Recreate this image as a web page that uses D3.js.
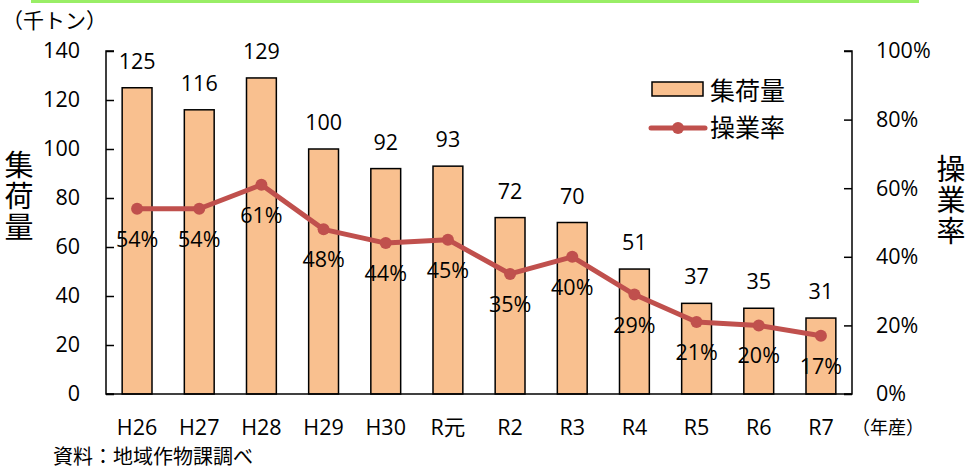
<!DOCTYPE html>
<html><head><meta charset="utf-8">
<script src="https://cdn.jsdelivr.net/npm/d3@7"></script>
<style>
body{margin:0;background:#fff;}
svg{display:block;font-family:"Open Sans","Noto Sans CJK JP",sans-serif;}
</style></head>
<body><svg id="chart" width="978" height="469"></svg>
<script>
const categories = ["H26","H27","H28","H29","H30","R元","R2","R3","R4","R5","R6","R7"];
const volumes = [125,116,129,100,92,93,72,70,51,37,35,31];
const rates = [0.54,0.54,0.61,0.48,0.44,0.45,0.35,0.40,0.29,0.21,0.20,0.17];
const leftTicks = [0,20,40,60,80,100,120,140];
const rightTicks = [0,0.2,0.4,0.6,0.8,1.0];

const svg = d3.select("#chart");
const x0 = 106, x1 = 852, yTop = 51, yBot = 394;
const jp = "'Noto Sans CJK JP',sans-serif";
const num = "'Open Sans','Noto Sans CJK JP',sans-serif";
const barFill = "#F9C08F", lineCol = "#C0504D";
const fs = 21.5;

// top green strip
svg.append("rect").attr("x",31).attr("y",0).attr("width",888).attr("height",3).attr("fill","#99EE66");

const x = d3.scaleBand().domain(categories).range([x0,x1]).paddingInner(0.52).paddingOuter(0.26);
const y = d3.scaleLinear().domain([0,140]).range([yBot,yTop]);
const yr = d3.scaleLinear().domain([0,1]).range([yBot,yTop]);

// bars
svg.selectAll("rect.bar").data(volumes).enter().append("rect").attr("class","bar")
  .attr("x",(d,i)=>x(categories[i])).attr("width",x.bandwidth())
  .attr("y",d=>y(d)).attr("height",d=>y(0)-y(d))
  .attr("fill",barFill).attr("stroke","#000").attr("stroke-width",1.5);

// bar labels
svg.selectAll("text.vl").data(volumes).enter().append("text").attr("class","vl")
  .attr("x",(d,i)=>x(categories[i])+x.bandwidth()/2).attr("y",d=>y(d)-19)
  .attr("text-anchor","middle").attr("font-size",fs).attr("font-family",num).attr("fill","#000").text(d=>d);

// left axis
const la = svg.append("g").attr("transform",`translate(${x0},0)`)
  .call(d3.axisRight(y).tickValues(leftTicks).tickSize(8).tickFormat(d3.format("d")));
la.select(".domain").attr("stroke","#000").attr("stroke-width",1.5).attr("d",`M8,${yTop}H0V${yBot}H8`);
la.selectAll(".tick line").attr("stroke","#000").attr("stroke-width",1.5);
la.selectAll(".tick text").attr("x",-26).attr("text-anchor","end").attr("font-size",fs).attr("fill","#000").attr("font-family",num);

// right axis
const ra = svg.append("g").attr("transform",`translate(${x1},0)`)
  .call(d3.axisLeft(yr).tickValues(rightTicks).tickSize(8).tickFormat(d3.format(".0%")));
ra.select(".domain").attr("stroke","#000").attr("stroke-width",1.5).attr("d",`M-8,${yTop}H0V${yBot}H-8`);
ra.selectAll(".tick line").attr("stroke","#000").attr("stroke-width",1.5);
ra.selectAll(".tick text").attr("x",24).attr("text-anchor","start").attr("font-size",fs).attr("fill","#000").attr("font-family",num);

// bottom axis line
svg.append("line").attr("x1",x0).attr("x2",x1).attr("y1",yBot).attr("y2",yBot).attr("stroke","#000").attr("stroke-width",1.5);

// x labels
svg.selectAll("text.xl").data(categories).enter().append("text").attr("class","xl")
  .attr("x",d=>x(d)+x.bandwidth()/2).attr("y",435).attr("text-anchor","middle")
  .attr("font-size",fs).attr("font-family",num).attr("fill","#000").text(d=>d);

// line
const line = d3.line().x((d,i)=>x(categories[i])+x.bandwidth()/2).y(d=>yr(d));
svg.append("path").datum(rates).attr("d",line).attr("fill","none")
  .attr("stroke",lineCol).attr("stroke-width",5).attr("stroke-linejoin","round");
svg.selectAll("circle.pt").data(rates).enter().append("circle").attr("class","pt")
  .attr("cx",(d,i)=>x(categories[i])+x.bandwidth()/2).attr("cy",d=>yr(d)).attr("r",6).attr("fill",lineCol);

// rate labels
svg.selectAll("text.rl").data(rates).enter().append("text").attr("class","rl")
  .attr("x",(d,i)=>x(categories[i])+x.bandwidth()/2).attr("y",d=>yr(d)+38)
  .attr("text-anchor","middle").attr("font-size",fs).attr("font-family",num).attr("fill","#000").text(d=>Math.round(d*100)+"%");

// legend
svg.append("rect").attr("x",652).attr("y",82).attr("width",51).attr("height",14)
  .attr("fill",barFill).attr("stroke","#000").attr("stroke-width",1.5);
svg.append("text").attr("x",710).attr("y",100).attr("font-size",25).attr("font-family",jp).attr("fill","#000").text("集荷量");
svg.append("line").attr("x1",651).attr("x2",705).attr("y1",128).attr("y2",128).attr("stroke",lineCol).attr("stroke-width",5).attr("stroke-linecap","round");
svg.append("circle").attr("cx",678).attr("cy",128).attr("r",6).attr("fill",lineCol);
svg.append("text").attr("x",710).attr("y",137).attr("font-size",25).attr("font-family",jp).attr("fill","#000").text("操業率");

// axis titles (vertical writing)
svg.append("text").attr("x",19).attr("y",150).attr("font-size",29).attr("font-family",jp)
  .style("writing-mode","vertical-rl").attr("letter-spacing",2).attr("fill","#000").text("集荷量");
svg.append("text").attr("x",951).attr("y",154).attr("font-size",29).attr("font-family",jp)
  .style("writing-mode","vertical-rl").attr("letter-spacing",2).attr("fill","#000").text("操業率");

// unit labels & source
svg.append("text").attr("x",2).attr("y",28).attr("font-size",21).attr("font-family",jp).attr("fill","#000").text("（千トン）");
svg.append("text").attr("x",852).attr("y",434).attr("font-size",18).attr("font-family",jp).attr("fill","#000").text("（年産）");
svg.append("text").attr("x",53).attr("y",464).attr("font-size",20).attr("font-family",jp).attr("fill","#000").text("資料：地域作物課調べ");
</script></body></html>
